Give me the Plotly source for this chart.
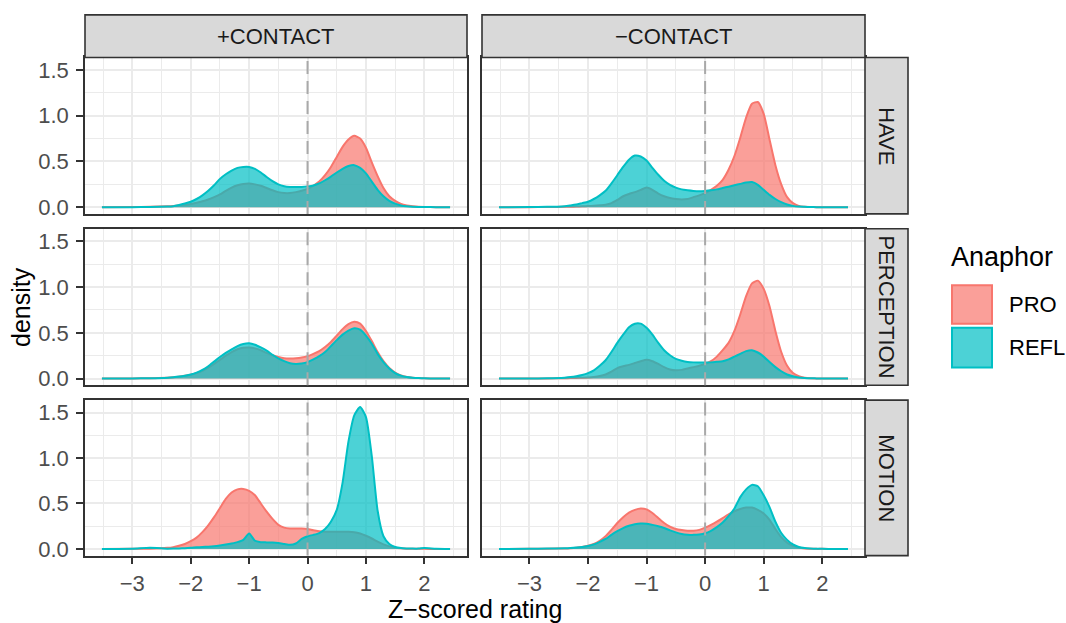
import plotly.graph_objects as go

W, H = 1066, 623

# ---------------- data ----------------
X = [-3.52, -3.0, -2.7,
     -2.4, -2.3, -2.2, -2.1, -2.0, -1.9, -1.8, -1.7, -1.6, -1.5,
     -1.4, -1.3, -1.2, -1.1, -1.0, -0.9, -0.8, -0.7, -0.6, -0.5,
     -0.4, -0.3, -0.2, -0.1, 0.0, 0.1, 0.2, 0.3, 0.4, 0.5,
     0.6, 0.7, 0.8, 0.9, 1.0, 1.1, 1.2, 1.3, 1.4, 1.5,
     1.6, 1.7, 1.8, 1.9, 2.0,
     2.2, 2.44]

contact_levels = ["+CONTACT", "\u2212CONTACT"]
verb_levels = ["HAVE", "PERCEPTION", "MOTION"]
anaphor_levels = ["PRO", "REFL"]
x_ticks = [-3, -2, -1, 0, 1, 2]
y_ticks = [0.0, 0.5, 1.0, 1.5]
y_tick_labels = ["0.0", "0.5", "1.0", "1.5"]

have_plus_pro = [0.0, 0.002, 0.005,
                 0.010, 0.013, 0.018, 0.025, 0.035, 0.050, 0.065, 0.085, 0.110, 0.140,
                 0.180, 0.215, 0.240, 0.255, 0.260, 0.250, 0.235, 0.210, 0.185, 0.165,
                 0.155, 0.155, 0.165, 0.180, 0.200, 0.235, 0.280, 0.350, 0.440, 0.550,
                 0.660, 0.740, 0.780, 0.750, 0.650, 0.490, 0.340, 0.210, 0.120, 0.070,
                 0.035, 0.018, 0.010, 0.005, 0.003,
                 0.001, 0.0]
have_plus_refl = [0.0, 0.001, 0.003,
                  0.008, 0.012, 0.025, 0.040, 0.060, 0.090, 0.130, 0.180, 0.240, 0.310,
                  0.360, 0.400, 0.430, 0.440, 0.440, 0.420, 0.380, 0.330, 0.285, 0.250,
                  0.230, 0.222, 0.220, 0.222, 0.228, 0.238, 0.260, 0.295, 0.335, 0.380,
                  0.420, 0.450, 0.460, 0.430, 0.370, 0.280, 0.190, 0.120, 0.070, 0.040,
                  0.020, 0.010, 0.005, 0.003, 0.002,
                  0.001, 0.0]
have_minus_pro = [0.0, 0.001, 0.002,
                  0.004, 0.005, 0.007, 0.010, 0.013, 0.017, 0.022, 0.028, 0.045, 0.080,
                  0.120, 0.145, 0.165, 0.190, 0.215, 0.190, 0.150, 0.120, 0.100, 0.090,
                  0.085, 0.090, 0.110, 0.130, 0.155, 0.190, 0.235, 0.300, 0.410, 0.560,
                  0.760, 0.980, 1.130, 1.150, 1.020, 0.740, 0.460, 0.250, 0.110, 0.045,
                  0.015, 0.006, 0.003, 0.001, 0.001,
                  0.0, 0.0]
have_minus_refl = [0.0, 0.002, 0.004,
                   0.012, 0.020, 0.030, 0.045, 0.060, 0.090, 0.130, 0.180, 0.260, 0.350,
                   0.440, 0.520, 0.565, 0.555, 0.510, 0.430, 0.355, 0.290, 0.245, 0.215,
                   0.195, 0.185, 0.178, 0.175, 0.178, 0.185, 0.195, 0.210, 0.225, 0.240,
                   0.255, 0.270, 0.275, 0.245, 0.190, 0.135, 0.090, 0.055, 0.030, 0.015,
                   0.007, 0.004, 0.002, 0.001, 0.001,
                   0.0, 0.0]
perc_plus_pro = [0.0, 0.002, 0.004,
                 0.010, 0.014, 0.020, 0.030, 0.042, 0.060, 0.085, 0.120, 0.160, 0.205,
                 0.250, 0.290, 0.320, 0.338, 0.340, 0.330, 0.310, 0.280, 0.255, 0.235,
                 0.222, 0.220, 0.222, 0.230, 0.245, 0.270, 0.300, 0.345, 0.400, 0.470,
                 0.540, 0.595, 0.620, 0.600, 0.520, 0.410, 0.290, 0.190, 0.115, 0.065,
                 0.035, 0.018, 0.010, 0.005, 0.003,
                 0.001, 0.0]
perc_plus_refl = [0.0, 0.002, 0.004,
                  0.010, 0.015, 0.022, 0.032, 0.045, 0.065, 0.095, 0.135, 0.185, 0.235,
                  0.280, 0.320, 0.355, 0.378, 0.386, 0.370, 0.340, 0.305, 0.260, 0.220,
                  0.190, 0.168, 0.160, 0.165, 0.180, 0.210, 0.245, 0.290, 0.355, 0.420,
                  0.480, 0.525, 0.550, 0.535, 0.470, 0.380, 0.270, 0.180, 0.110, 0.060,
                  0.032, 0.017, 0.009, 0.005, 0.003,
                  0.001, 0.0]
perc_minus_pro = [0.0, 0.001, 0.002,
                  0.004, 0.005, 0.007, 0.009, 0.012, 0.018, 0.028, 0.045, 0.075, 0.115,
                  0.135, 0.150, 0.170, 0.190, 0.205, 0.190, 0.160, 0.125, 0.100, 0.090,
                  0.095, 0.110, 0.125, 0.140, 0.160, 0.190, 0.240, 0.310, 0.390, 0.520,
                  0.700, 0.900, 1.040, 1.070, 0.980, 0.790, 0.520, 0.290, 0.140, 0.060,
                  0.025, 0.010, 0.004, 0.002, 0.001,
                  0.0, 0.0]
perc_minus_refl = [0.0, 0.001, 0.003,
                   0.010, 0.016, 0.026, 0.040, 0.060, 0.090, 0.140, 0.200, 0.290, 0.390,
                   0.480, 0.560, 0.600, 0.600, 0.555, 0.480, 0.390, 0.310, 0.255, 0.215,
                   0.195, 0.182, 0.177, 0.175, 0.175, 0.177, 0.183, 0.190, 0.210, 0.240,
                   0.270, 0.300, 0.310, 0.285, 0.240, 0.180, 0.125, 0.080, 0.045, 0.025,
                   0.012, 0.006, 0.003, 0.002, 0.001,
                   0.0, 0.0]
motion_plus_pro = [0.0, 0.001, 0.003,
                   0.012, 0.020, 0.035, 0.055, 0.085, 0.125, 0.185, 0.260, 0.350, 0.450,
                   0.550, 0.620, 0.655, 0.660, 0.640, 0.590, 0.500, 0.410, 0.330, 0.265,
                   0.235, 0.225, 0.225, 0.225, 0.220, 0.205, 0.195, 0.190, 0.190, 0.190,
                   0.190, 0.190, 0.185, 0.170, 0.145, 0.115, 0.080, 0.050, 0.028, 0.014,
                   0.007, 0.003, 0.002, 0.001, 0.001,
                   0.0, 0.0]
motion_plus_refl = [0.0, 0.002, 0.012,
                    0.003, 0.004, 0.006, 0.008, 0.012, 0.018, 0.022, 0.025, 0.030, 0.038,
                    0.048, 0.060, 0.075, 0.100, 0.170, 0.090, 0.075, 0.072, 0.070, 0.065,
                    0.055, 0.045, 0.060, 0.110, 0.140, 0.155, 0.175, 0.220, 0.300, 0.430,
                    0.730, 1.180, 1.470, 1.560, 1.450, 1.020, 0.420, 0.140, 0.055, 0.022,
                    0.010, 0.006, 0.004, 0.004, 0.010,
                    0.003, 0.0]
motion_minus_pro = [0.0, 0.002, 0.003,
                    0.006, 0.009, 0.014, 0.022, 0.035, 0.055, 0.090, 0.140, 0.210, 0.285,
                    0.350, 0.400, 0.430, 0.445, 0.435, 0.395, 0.340, 0.285, 0.245, 0.220,
                    0.208, 0.200, 0.200, 0.210, 0.235, 0.265, 0.300, 0.340, 0.380, 0.415,
                    0.440, 0.455, 0.455, 0.430, 0.390, 0.320, 0.220, 0.130, 0.070, 0.035,
                    0.015, 0.006, 0.003, 0.001, 0.001,
                    0.0, 0.0]
motion_minus_refl = [0.0, 0.002, 0.004,
                     0.007, 0.010, 0.015, 0.022, 0.033, 0.050, 0.078, 0.110, 0.155, 0.195,
                     0.230, 0.255, 0.272, 0.280, 0.278, 0.265, 0.250, 0.230, 0.205, 0.182,
                     0.165, 0.157, 0.155, 0.160, 0.173, 0.200, 0.240, 0.290, 0.360, 0.445,
                     0.570, 0.655, 0.705, 0.690, 0.590, 0.460, 0.300, 0.175, 0.100, 0.050,
                     0.022, 0.010, 0.005, 0.002, 0.001,
                     0.0, 0.0]

density = {
    ("HAVE", "+CONTACT"): (have_plus_pro, have_plus_refl),
    ("HAVE", "\u2212CONTACT"): (have_minus_pro, have_minus_refl),
    ("PERCEPTION", "+CONTACT"): (perc_plus_pro, perc_plus_refl),
    ("PERCEPTION", "\u2212CONTACT"): (perc_minus_pro, perc_minus_refl),
    ("MOTION", "+CONTACT"): (motion_plus_pro, motion_plus_refl),
    ("MOTION", "\u2212CONTACT"): (motion_minus_pro, motion_minus_refl),
}

# ---------------- styling ----------------
line_colors = {"PRO": "#F8766D", "REFL": "#00BFC4"}
fill_colors = {"PRO": "rgba(248,118,109,0.7)", "REFL": "rgba(0,191,196,0.7)"}
FONT = "Liberation Sans, Arial, Helvetica, sans-serif"

col_px = [(85, 467), (482, 865)]
row_px = [(58, 216), (231, 389), (404, 561)]
top_strip = (15, 58)
right_strip = (865, 908)

def fx(px):
    return px / W

def fy(py):
    return 1 - py / H

fig = go.Figure()
layout = {}
shapes = []
annotations = []

for r, verb in enumerate(verb_levels):
    for c, contact in enumerate(contact_levels):
        idx = r * 2 + c + 1
        xa = "x" if idx == 1 else f"x{idx}"
        ya = "y" if idx == 1 else f"y{idx}"
        for an, ys in zip(anaphor_levels, density[(verb, contact)]):
            fig.add_trace(go.Scatter(
                x=X, y=ys, xaxis=xa, yaxis=ya, mode="lines",
                line=dict(color=line_colors[an], width=2, shape="spline", smoothing=0.6),
                fill="tozeroy", fillcolor=fill_colors[an],
                showlegend=False, hoverinfo="skip"))
        bottom = (r == len(verb_levels) - 1)
        left = (c == 0)
        x0, x1 = col_px[c]
        y0, y1 = row_px[r]
        layout["xaxis" if idx == 1 else f"xaxis{idx}"] = dict(
            domain=[fx(x0), fx(x1)], anchor=ya, range=[-3.81, 2.73],
            tickmode="array", tickvals=x_ticks,
            showgrid=True, gridcolor="#EBEBEB", gridwidth=1.8,
            minor=dict(tickmode="array", tickvals=[-3.5, -2.5, -1.5, -0.5, 0.5, 1.5, 2.5],
                       showgrid=True, gridcolor="#EBEBEB", gridwidth=0.9, ticks=""),
            zeroline=False, showline=True, mirror=True, linecolor="#333333", linewidth=1.6,
            ticks="outside" if bottom else "", ticklen=7, tickwidth=1.6, tickcolor="#333333",
            showticklabels=bottom, tickfont=dict(family=FONT, size=22, color="#4D4D4D"),
            fixedrange=True)
        layout["yaxis" if idx == 1 else f"yaxis{idx}"] = dict(
            domain=[fy(y1), fy(y0)], anchor=xa, range=[-0.073, 1.637],
            tickmode="array", tickvals=y_ticks, ticktext=y_tick_labels,
            showgrid=True, gridcolor="#EBEBEB", gridwidth=1.8,
            minor=dict(tickmode="array", tickvals=[0.25, 0.75, 1.25],
                       showgrid=True, gridcolor="#EBEBEB", gridwidth=0.9, ticks=""),
            zeroline=False, showline=True, mirror=True, linecolor="#333333", linewidth=1.6,
            ticks="outside" if left else "", ticklen=7, tickwidth=1.6, tickcolor="#333333",
            showticklabels=left, tickfont=dict(family=FONT, size=22, color="#4D4D4D"),
            ticklabelstandoff=3, fixedrange=True)
        # dashed reference line at 0
        shapes.append(dict(type="line", xref=xa, yref=f"{ya} domain", x0=0, x1=0, y0=0, y1=1,
                           line=dict(color="#A9A9A9", width=2, dash="13px,7px"), layer="above"))

# strips
for c, contact in enumerate(contact_levels):
    x0, x1 = col_px[c]
    shapes.append(dict(type="rect", xref="paper", yref="paper",
                       x0=fx(x0), x1=fx(x1), y0=fy(top_strip[1]), y1=fy(top_strip[0]),
                       fillcolor="#D9D9D9", line=dict(color="#333333", width=1.6), layer="above"))
    annotations.append(dict(text=contact, xref="paper", yref="paper",
                            x=fx((x0 + x1) / 2), y=fy(sum(top_strip) / 2),
                            xanchor="center", yanchor="middle", showarrow=False,
                            font=dict(family=FONT, size=22, color="#1A1A1A")))
for r, verb in enumerate(verb_levels):
    y0, y1 = row_px[r]
    shapes.append(dict(type="rect", xref="paper", yref="paper",
                       x0=fx(right_strip[0]), x1=fx(right_strip[1]), y0=fy(y1), y1=fy(y0),
                       fillcolor="#D9D9D9", line=dict(color="#333333", width=1.6), layer="above"))
    annotations.append(dict(text=verb, xref="paper", yref="paper",
                            x=fx(sum(right_strip) / 2), y=fy((y0 + y1) / 2),
                            xanchor="center", yanchor="middle", textangle=90, showarrow=False,
                            font=dict(family=FONT, size=22, color="#1A1A1A")))

# axis titles
annotations.append(dict(text="Z\u2212scored rating", xref="paper", yref="paper",
                        x=fx(475), y=fy(615), xanchor="center", yanchor="middle",
                        showarrow=False, font=dict(family=FONT, size=25, color="#000000")))
annotations.append(dict(text="density", xref="paper", yref="paper",
                        x=fx(21), y=fy(310), xanchor="center", yanchor="middle",
                        textangle=-90, showarrow=False,
                        font=dict(family=FONT, size=25, color="#000000")))

# legend (drawn manually)
annotations.append(dict(text="Anaphor", xref="paper", yref="paper",
                        x=fx(949), y=fy(260), xanchor="left", yanchor="middle",
                        showarrow=False, font=dict(family=FONT, size=27, color="#000000")))
key_rows = [(287, 328), (330, 372)]
for an, (k0, k1) in zip(anaphor_levels, key_rows):
    shapes.append(dict(type="rect", xref="paper", yref="paper",
                       x0=fx(952), x1=fx(992), y0=fy(k1 - 1), y1=fy(k0 + 1),
                       fillcolor=fill_colors[an], line=dict(color=line_colors[an], width=2)))
    annotations.append(dict(text=an, xref="paper", yref="paper",
                            x=fx(1007), y=fy((k0 + k1) / 2), xanchor="left", yanchor="middle",
                            showarrow=False, font=dict(family=FONT, size=22, color="#000000")))

fig.update_layout(
    width=W, height=H, margin=dict(l=0, r=0, t=0, b=0),
    paper_bgcolor="white", plot_bgcolor="white",
    showlegend=False, shapes=shapes, annotations=annotations,
    font=dict(family=FONT), **layout)

fig.write_html("out.html")
